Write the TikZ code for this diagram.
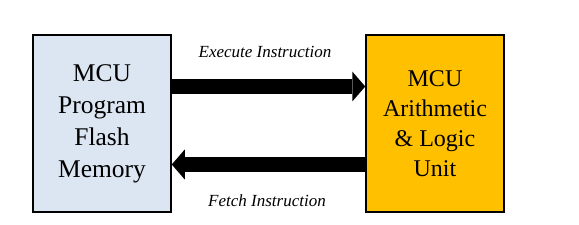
\documentclass[tikz,border=0pt]{standalone}
\usepackage{fontspec}
\setmainfont{Liberation Serif}
\usetikzlibrary{arrows.meta}
\definecolor{memblue}{HTML}{DCE6F2}
\definecolor{alugold}{HTML}{FFC000}
\begin{document}
\begin{tikzpicture}[x=1pt,y=1pt,
  unitbox/.style={draw=black, line width=1.5pt, minimum width=138pt, minimum height=177pt, inner sep=0pt, align=center},
  bigarrow/.style={line width=15pt, -{Triangle[length=13pt,width=30pt,line width=0pt]}},
  lbl/.style={font=\fontsize{17}{20}\selectfont\itshape}]
\useasboundingbox (0,0) rectangle (579,225);
\node[unitbox, fill=memblue, font=\fontsize{25.5}{32}\selectfont] (mem) at (102,101.5) {MCU\\Program\\Flash\\Memory};
\node[unitbox, fill=alugold, font=\fontsize{24}{30}\selectfont] (alu) at (435,101.5) {MCU\\Arithmetic\\\&~Logic\\Unit};
\coordinate (t) at (0,138.5);
\coordinate (b) at (0,60.5);
\draw[bigarrow] (mem.east |- t) -- (alu.west |- t);
\draw[bigarrow] (alu.west |- b) -- (mem.east |- b);
\node[lbl] (exe) at (265,173) {Execute Instruction};
\node[lbl] (fet) at (267,24) {Fetch Instruction};
\end{tikzpicture}
\end{document}
